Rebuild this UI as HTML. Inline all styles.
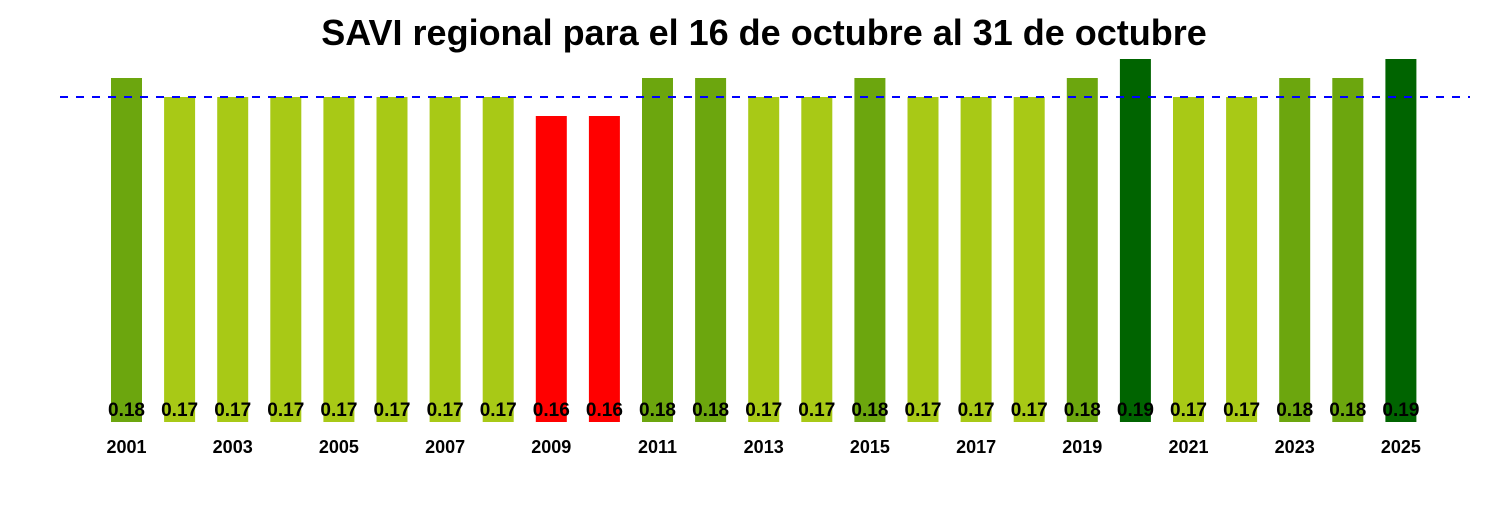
<!DOCTYPE html><html><head><style>body{margin:0;background:#fff}svg text{font-family:"Liberation Sans",Arial,sans-serif;font-weight:bold}</style></head><body>
<svg id="s" width="1500" height="500" xmlns="http://www.w3.org/2000/svg">
<text x="764" y="45" font-size="36" text-anchor="middle">SAVI regional para el 16 de octubre al 31 de octubre</text>
<g id="b"></g>
<line x1="60" y1="97" x2="1470" y2="97" stroke="#0000ff" stroke-width="2" stroke-dasharray="8,8"/>
<g id="t"></g>
</svg>
<script>
(function(){
var v=[18,17,17,17,17,17,17,17,16,16,18,18,17,17,18,17,17,17,18,19,17,17,18,18,19];
var col={16:"#ff0000",17:"#a8c916",18:"#6ca60e",19:"#006400"};
var tp={16:116,17:97,18:78,19:59};
var NS="http://www.w3.org/2000/svg";
var b=document.getElementById("b"),t=document.getElementById("t");
function el(p,n,a,txt){var e=document.createElementNS(NS,n);for(var k in a)e.setAttribute(k,a[k]);if(txt)e.textContent=txt;p.appendChild(e);}
for(var i=0;i<25;i++){var cx=126.5+i*53.1;
el(b,"rect",{x:cx-15.5,y:tp[v[i]],width:31,height:422-tp[v[i]],fill:col[v[i]]});
el(t,"text",{x:cx,y:416,"font-size":19,"text-anchor":"middle"},"0."+v[i]);
if(i%2==0)el(t,"text",{x:cx,y:453,"font-size":18,"text-anchor":"middle"},String(2001+i));}
})();
</script>
</body></html>
